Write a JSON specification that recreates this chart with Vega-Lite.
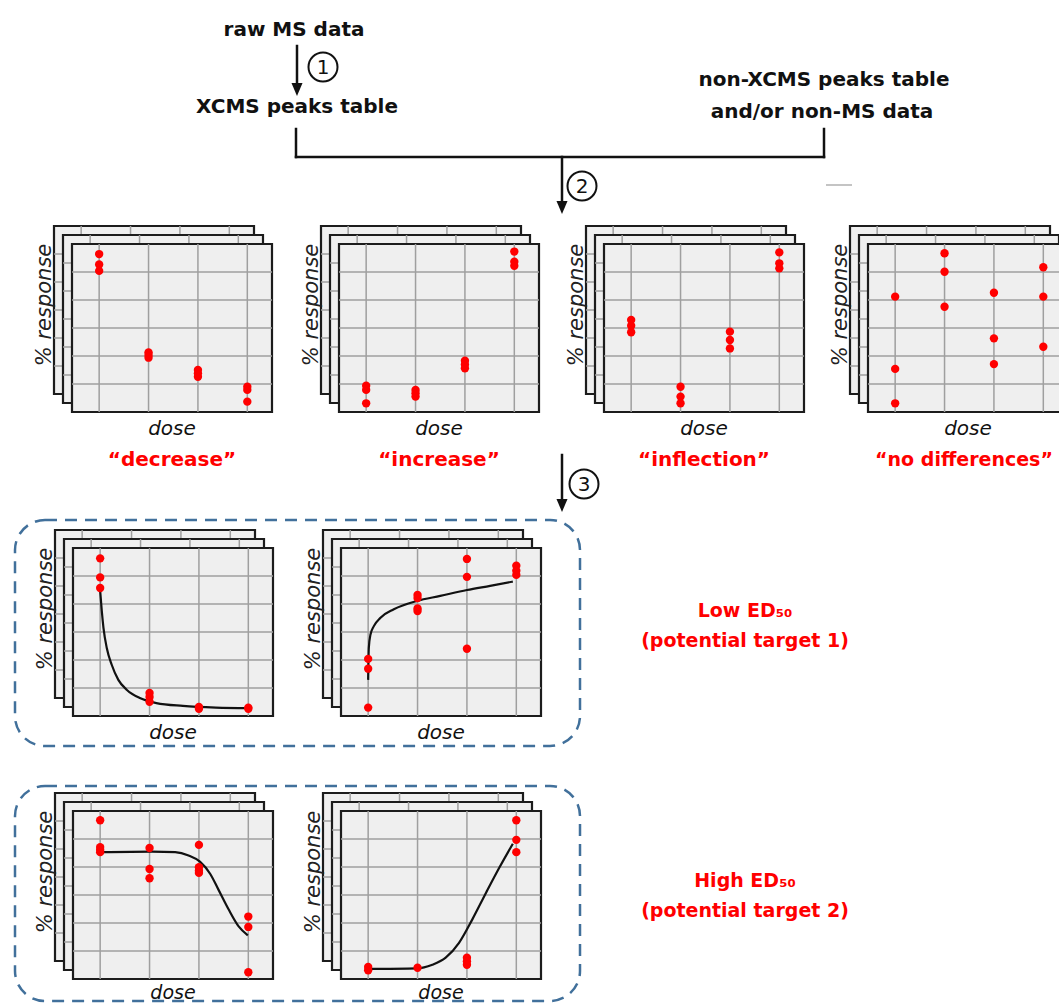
{
"$schema": "https://vega.github.io/schema/vega-lite/v6.json",
"width": 1059, "height": 1005, "autosize": {"type": "none"}, "padding": 0, "background": "white",
"config": {"view": {"stroke": null}, "axis": {"disable": true}},
"resolve": {"scale": {"x": "independent", "y": "independent"}},
"datasets": {
"sheet": [{"sheet": "card"}],
"grid": [{"x":1,"x2":1,"y":0,"y2":6},{"x":2,"x2":2,"y":0,"y2":6},{"x":3,"x2":3,"y":0,"y2":6},{"x":4,"x2":4,"y":0,"y2":6},{"x":0.45,"x2":4.5,"y":1,"y2":1},{"x":0.45,"x2":4.5,"y":2,"y2":2},{"x":0.45,"x2":4.5,"y":3,"y2":3},{"x":0.45,"x2":4.5,"y":4,"y2":4},{"x":0.45,"x2":4.5,"y":5,"y2":5}],
"points": [
{"panel":"decrease","dose":1,"response":5.64},{"panel":"decrease","dose":1,"response":5.27},{"panel":"decrease","dose":1,"response":5.04},{"panel":"decrease","dose":2,"response":2.13},{"panel":"decrease","dose":2,"response":2.04},{"panel":"decrease","dose":2,"response":1.94},{"panel":"decrease","dose":3,"response":1.5},{"panel":"decrease","dose":3,"response":1.38},{"panel":"decrease","dose":3,"response":1.26},{"panel":"decrease","dose":4,"response":0.9},{"panel":"decrease","dose":4,"response":0.79},{"panel":"decrease","dose":4,"response":0.37},
{"panel":"increase","dose":1,"response":0.94},{"panel":"increase","dose":1,"response":0.79},{"panel":"increase","dose":1,"response":0.31},{"panel":"increase","dose":2,"response":0.79},{"panel":"increase","dose":2,"response":0.67},{"panel":"increase","dose":2,"response":0.55},{"panel":"increase","dose":3,"response":1.83},{"panel":"increase","dose":3,"response":1.7},{"panel":"increase","dose":3,"response":1.56},{"panel":"increase","dose":4,"response":5.73},{"panel":"increase","dose":4,"response":5.37},{"panel":"increase","dose":4,"response":5.22},
{"panel":"inflection","dose":1,"response":3.29},{"panel":"inflection","dose":1,"response":3.08},{"panel":"inflection","dose":1,"response":2.85},{"panel":"inflection","dose":2,"response":0.9},{"panel":"inflection","dose":2,"response":0.55},{"panel":"inflection","dose":2,"response":0.31},{"panel":"inflection","dose":3,"response":2.87},{"panel":"inflection","dose":3,"response":2.57},{"panel":"inflection","dose":3,"response":2.27},{"panel":"inflection","dose":4,"response":5.7},{"panel":"inflection","dose":4,"response":5.31},{"panel":"inflection","dose":4,"response":5.13},
{"panel":"no differences","dose":1,"response":4.12},{"panel":"no differences","dose":1,"response":1.54},{"panel":"no differences","dose":1,"response":0.31},{"panel":"no differences","dose":2,"response":5.67},{"panel":"no differences","dose":2,"response":5.01},{"panel":"no differences","dose":2,"response":3.76},{"panel":"no differences","dose":3,"response":4.26},{"panel":"no differences","dose":3,"response":2.63},{"panel":"no differences","dose":3,"response":1.71},{"panel":"no differences","dose":4,"response":5.17},{"panel":"no differences","dose":4,"response":4.12},{"panel":"no differences","dose":4,"response":2.33},
{"panel":"low1","dose":1,"response":5.63},{"panel":"low1","dose":1,"response":4.95},{"panel":"low1","dose":1,"response":4.57},{"panel":"low1","dose":2,"response":0.82},{"panel":"low1","dose":2,"response":0.68},{"panel":"low1","dose":2,"response":0.51},{"panel":"low1","dose":3,"response":0.32},{"panel":"low1","dose":3,"response":0.26},{"panel":"low1","dose":4,"response":0.3},{"panel":"low1","dose":4,"response":0.26},
{"panel":"low2","dose":1,"response":2.04},{"panel":"low2","dose":1,"response":1.69},{"panel":"low2","dose":1,"response":0.3},{"panel":"low2","dose":2,"response":4.32},{"panel":"low2","dose":2,"response":4.21},{"panel":"low2","dose":2,"response":3.84},{"panel":"low2","dose":2,"response":3.75},{"panel":"low2","dose":3,"response":5.61},{"panel":"low2","dose":3,"response":4.97},{"panel":"low2","dose":3,"response":2.4},{"panel":"low2","dose":4,"response":5.37},{"panel":"low2","dose":4,"response":5.19},{"panel":"low2","dose":4,"response":5.04},
{"panel":"high1","dose":1,"response":5.67},{"panel":"high1","dose":1,"response":4.71},{"panel":"high1","dose":1,"response":4.62},{"panel":"high1","dose":1,"response":4.53},{"panel":"high1","dose":2,"response":4.68},{"panel":"high1","dose":2,"response":3.93},{"panel":"high1","dose":2,"response":3.6},{"panel":"high1","dose":3,"response":4.79},{"panel":"high1","dose":3,"response":3.99},{"panel":"high1","dose":3,"response":3.87},{"panel":"high1","dose":3,"response":3.79},{"panel":"high1","dose":4,"response":2.23},{"panel":"high1","dose":4,"response":1.86},{"panel":"high1","dose":4,"response":0.24},
{"panel":"high2","dose":1,"response":0.43},{"panel":"high2","dose":1,"response":0.31},{"panel":"high2","dose":2,"response":0.4},{"panel":"high2","dose":3,"response":0.76},{"panel":"high2","dose":3,"response":0.63},{"panel":"high2","dose":3,"response":0.51},{"panel":"high2","dose":4,"response":5.67},{"panel":"high2","dose":4,"response":4.97},{"panel":"high2","dose":4,"response":4.53}
],
"curves": [
{"panel":"low1","dose":1,"fit":4.47},{"panel":"low1","dose":1.033,"fit":3.75},{"panel":"low1","dose":1.067,"fit":3.15},{"panel":"low1","dose":1.134,"fit":2.43},{"panel":"low1","dose":1.234,"fit":1.83},{"panel":"low1","dose":1.368,"fit":1.29},{"panel":"low1","dose":1.536,"fit":0.94},{"panel":"low1","dose":1.804,"fit":0.64},{"panel":"low1","dose":2.139,"fit":0.46},{"panel":"low1","dose":2.675,"fit":0.36},{"panel":"low1","dose":3.344,"fit":0.3},{"panel":"low1","dose":4.014,"fit":0.28},
{"panel":"low2","dose":1,"fit":1.29},{"panel":"low2","dose":1.013,"fit":2.43},{"panel":"low2","dose":1.047,"fit":2.91},{"panel":"low2","dose":1.115,"fit":3.21},{"panel":"low2","dose":1.25,"fit":3.51},{"panel":"low2","dose":1.52,"fit":3.81},{"panel":"low2","dose":1.99,"fit":4.11},{"panel":"low2","dose":2.46,"fit":4.29},{"panel":"low2","dose":3.0,"fit":4.5},{"panel":"low2","dose":3.47,"fit":4.65},{"panel":"low2","dose":3.93,"fit":4.8},
{"panel":"high1","dose":1.03,"fit":4.53},{"panel":"high1","dose":2.05,"fit":4.55},{"panel":"high1","dose":2.52,"fit":4.53},{"panel":"high1","dose":2.79,"fit":4.41},{"panel":"high1","dose":3.02,"fit":4.19},{"panel":"high1","dose":3.23,"fit":3.75},{"panel":"high1","dose":3.39,"fit":3.21},{"panel":"high1","dose":3.6,"fit":2.49},{"panel":"high1","dose":3.8,"fit":1.89},{"panel":"high1","dose":3.99,"fit":1.56},
{"panel":"high2","dose":1,"fit":0.36},{"panel":"high2","dose":1.99,"fit":0.38},{"panel":"high2","dose":2.3,"fit":0.51},{"panel":"high2","dose":2.57,"fit":0.76},{"panel":"high2","dose":2.84,"fit":1.29},{"panel":"high2","dose":3.11,"fit":2.13},{"panel":"high2","dose":3.39,"fit":3.09},{"panel":"high2","dose":3.66,"fit":3.99},{"panel":"high2","dose":3.93,"fit":4.83}
],
"labels": [
{"role":"node","text":"raw MS data","x":294,"y":36},
{"role":"node","text":"XCMS peaks table","x":297,"y":113},
{"role":"node","text":"non-XCMS peaks table","x":824,"y":86},
{"role":"node","text":"and/or non-MS data","x":822,"y":118},
{"role":"target","text":"Low ED₅₀","x":745,"y":617},
{"role":"target","text":"(potential target 1)","x":745,"y":647},
{"role":"target","text":"High ED₅₀","x":745,"y":887},
{"role":"target","text":"(potential target 2)","x":745,"y":917}
],
"steps": [{"step":"1","x":323,"y":67},{"step":"2","x":582,"y":186},{"step":"3","x":584,"y":484}],
"lines": [
{"kind":"black","x":297,"x2":297,"y":46,"y2":90},
{"kind":"black","x":296,"x2":296,"y":129,"y2":157},
{"kind":"black","x":824,"x2":824,"y":129,"y2":157},
{"kind":"black","x":296,"x2":824,"y":157,"y2":157},
{"kind":"black","x":562,"x2":562,"y":157,"y2":208},
{"kind":"black","x":562,"x2":562,"y":455,"y2":506},
{"kind":"gray","x":826,"x2":852,"y":185,"y2":185}
],
"arrows": [{"x":297,"y":96},{"x":562,"y":214},{"x":562,"y":512}],
"boxes": [{"x":15,"x2":580,"y":520,"y2":746},{"x":15,"x2":580,"y":786,"y2":1001}]
},
"layer": [
{"layer": [
 {"data":{"name":"boxes"},"mark":{"type":"rect","fill":"white","fillOpacity":0,"stroke":"#41709b","strokeWidth":2.5,"strokeDash":[12,8],"cornerRadius":30},"encoding":{"x":{"field":"x","type":"quantitative","scale":{"domain":[0,1059],"range":[0,1059],"nice":false,"zero":false}},"x2":{"field":"x2"},"y":{"field":"y","type":"quantitative","scale":{"domain":[0,1005],"range":[0,1005],"nice":false,"zero":false}},"y2":{"field":"y2"}}},
 {"data":{"name":"lines"},"transform":[{"filter":"datum.kind=='black'"}],"mark":{"type":"rule","color":"#111","strokeWidth":2.5,"strokeCap":"square"},"encoding":{"x":{"field":"x","type":"quantitative"},"x2":{"field":"x2"},"y":{"field":"y","type":"quantitative"},"y2":{"field":"y2"}}},
 {"data":{"name":"lines"},"transform":[{"filter":"datum.kind=='gray'"}],"mark":{"type":"rule","color":"#c4c4c4","strokeWidth":2},"encoding":{"x":{"field":"x","type":"quantitative"},"x2":{"field":"x2"},"y":{"field":"y","type":"quantitative"},"y2":{"field":"y2"}}},
 {"data":{"name":"arrows"},"mark":{"type":"point","shape":"M-0.85,-2L0.85,-2L0,0Z","size":169,"filled":true,"color":"#111","opacity":1},"encoding":{"x":{"field":"x","type":"quantitative"},"y":{"field":"y","type":"quantitative"}}},
 {"data":{"name":"steps"},"mark":{"type":"point","shape":"circle","size":841,"filled":false,"color":"#111","strokeWidth":2,"opacity":1},"encoding":{"x":{"field":"x","type":"quantitative"},"y":{"field":"y","type":"quantitative"}}},
 {"data":{"name":"steps"},"mark":{"type":"text","font":"DejaVu Sans","fontSize":20,"color":"#111","align":"center","baseline":"middle","dy":1},"encoding":{"x":{"field":"x","type":"quantitative"},"y":{"field":"y","type":"quantitative"},"text":{"field":"step"}}},
 {"data":{"name":"labels"},"transform":[{"filter":"datum.role=='node'"}],"mark":{"type":"text","font":"DejaVu Sans","fontWeight":"bold","fontSize":20,"color":"#111","align":"center","baseline":"alphabetic"},"encoding":{"x":{"field":"x","type":"quantitative"},"y":{"field":"y","type":"quantitative"},"text":{"field":"text"}}},
 {"data":{"name":"labels"},"transform":[{"filter":"datum.role=='target'"}],"mark":{"type":"text","font":"DejaVu Sans","fontWeight":"bold","fontSize":19,"color":"#f00","align":"center","baseline":"alphabetic"},"encoding":{"x":{"field":"x","type":"quantitative"},"y":{"field":"y","type":"quantitative"},"text":{"field":"text"}}}
]},
{"layer": [
 {"data":{"name":"sheet"},"mark":{"type":"rect","fill":"#efefef","stroke":"#1c1c1c","strokeWidth":2.2,"xOffset":-18,"x2Offset":-18,"yOffset":-18,"y2Offset":-18},"encoding":{"x":{"datum":0.45,"type":"quantitative","scale":{"domain":[0.45,4.5],"range":[72,272],"nice":false,"zero":false}},"x2":{"datum":4.5},"y":{"datum":0,"type":"quantitative","scale":{"domain":[0,6],"range":[412,244],"nice":false,"zero":false}},"y2":{"datum":6}}},
 {"data":{"name":"grid"},"mark":{"type":"rule","color":"#9f9f9f","strokeWidth":1.5,"xOffset":-18,"x2Offset":-18,"yOffset":-18,"y2Offset":-18},"encoding":{"x":{"field":"x","type":"quantitative"},"x2":{"field":"x2"},"y":{"field":"y","type":"quantitative"},"y2":{"field":"y2"}}},
 {"data":{"name":"sheet"},"mark":{"type":"rect","fill":"#efefef","stroke":"#1c1c1c","strokeWidth":2.2,"xOffset":-9,"x2Offset":-9,"yOffset":-9,"y2Offset":-9},"encoding":{"x":{"datum":0.45,"type":"quantitative"},"x2":{"datum":4.5},"y":{"datum":0,"type":"quantitative"},"y2":{"datum":6}}},
 {"data":{"name":"grid"},"mark":{"type":"rule","color":"#9f9f9f","strokeWidth":1.5,"xOffset":-9,"x2Offset":-9,"yOffset":-9,"y2Offset":-9},"encoding":{"x":{"field":"x","type":"quantitative"},"x2":{"field":"x2"},"y":{"field":"y","type":"quantitative"},"y2":{"field":"y2"}}},
 {"data":{"name":"sheet"},"mark":{"type":"rect","fill":"#efefef","stroke":"#1c1c1c","strokeWidth":2.2},"encoding":{"x":{"datum":0.45,"type":"quantitative"},"x2":{"datum":4.5},"y":{"datum":0,"type":"quantitative"},"y2":{"datum":6}}},
 {"data":{"name":"grid"},"mark":{"type":"rule","color":"#9f9f9f","strokeWidth":1.5},"encoding":{"x":{"field":"x","type":"quantitative"},"x2":{"field":"x2"},"y":{"field":"y","type":"quantitative"},"y2":{"field":"y2"}}},
 {"data":{"name":"points"},"transform":[{"filter":"datum.panel=='decrease'"}],"mark":{"type":"circle","color":"#f00","size":70,"opacity":1},"encoding":{"x":{"field":"dose","type":"quantitative"},"y":{"field":"response","type":"quantitative"}}},
 {"data":{"name":"sheet"},"mark":{"type":"text","text":"dose","font":"DejaVu Sans","fontStyle":"italic","fontSize":20,"color":"#111","align":"center","baseline":"alphabetic","yOffset":23},"encoding":{"x":{"datum":2.475,"type":"quantitative"},"y":{"datum":0,"type":"quantitative"}}},
 {"data":{"name":"sheet"},"mark":{"type":"text","text":"% response","font":"DejaVu Sans","fontStyle":"italic","fontSize":21,"color":"#222","align":"center","baseline":"alphabetic","angle":270,"xOffset":-21,"yOffset":61},"encoding":{"x":{"datum":0.45,"type":"quantitative"},"y":{"datum":6,"type":"quantitative"}}},
 {"data":{"name":"sheet"},"mark":{"type":"text","text":"“decrease”","font":"DejaVu Sans","fontWeight":"bold","fontSize":20,"color":"#f00","align":"center","baseline":"alphabetic","yOffset":54},"encoding":{"x":{"datum":2.475,"type":"quantitative"},"y":{"datum":0,"type":"quantitative"}}}
]},
{"layer": [
 {"data":{"name":"sheet"},"mark":{"type":"rect","fill":"#efefef","stroke":"#1c1c1c","strokeWidth":2.2,"xOffset":-18,"x2Offset":-18,"yOffset":-18,"y2Offset":-18},"encoding":{"x":{"datum":0.45,"type":"quantitative","scale":{"domain":[0.45,4.5],"range":[339,539],"nice":false,"zero":false}},"x2":{"datum":4.5},"y":{"datum":0,"type":"quantitative","scale":{"domain":[0,6],"range":[412,244],"nice":false,"zero":false}},"y2":{"datum":6}}},
 {"data":{"name":"grid"},"mark":{"type":"rule","color":"#9f9f9f","strokeWidth":1.5,"xOffset":-18,"x2Offset":-18,"yOffset":-18,"y2Offset":-18},"encoding":{"x":{"field":"x","type":"quantitative"},"x2":{"field":"x2"},"y":{"field":"y","type":"quantitative"},"y2":{"field":"y2"}}},
 {"data":{"name":"sheet"},"mark":{"type":"rect","fill":"#efefef","stroke":"#1c1c1c","strokeWidth":2.2,"xOffset":-9,"x2Offset":-9,"yOffset":-9,"y2Offset":-9},"encoding":{"x":{"datum":0.45,"type":"quantitative"},"x2":{"datum":4.5},"y":{"datum":0,"type":"quantitative"},"y2":{"datum":6}}},
 {"data":{"name":"grid"},"mark":{"type":"rule","color":"#9f9f9f","strokeWidth":1.5,"xOffset":-9,"x2Offset":-9,"yOffset":-9,"y2Offset":-9},"encoding":{"x":{"field":"x","type":"quantitative"},"x2":{"field":"x2"},"y":{"field":"y","type":"quantitative"},"y2":{"field":"y2"}}},
 {"data":{"name":"sheet"},"mark":{"type":"rect","fill":"#efefef","stroke":"#1c1c1c","strokeWidth":2.2},"encoding":{"x":{"datum":0.45,"type":"quantitative"},"x2":{"datum":4.5},"y":{"datum":0,"type":"quantitative"},"y2":{"datum":6}}},
 {"data":{"name":"grid"},"mark":{"type":"rule","color":"#9f9f9f","strokeWidth":1.5},"encoding":{"x":{"field":"x","type":"quantitative"},"x2":{"field":"x2"},"y":{"field":"y","type":"quantitative"},"y2":{"field":"y2"}}},
 {"data":{"name":"points"},"transform":[{"filter":"datum.panel=='increase'"}],"mark":{"type":"circle","color":"#f00","size":70,"opacity":1},"encoding":{"x":{"field":"dose","type":"quantitative"},"y":{"field":"response","type":"quantitative"}}},
 {"data":{"name":"sheet"},"mark":{"type":"text","text":"dose","font":"DejaVu Sans","fontStyle":"italic","fontSize":20,"color":"#111","align":"center","baseline":"alphabetic","yOffset":23},"encoding":{"x":{"datum":2.475,"type":"quantitative"},"y":{"datum":0,"type":"quantitative"}}},
 {"data":{"name":"sheet"},"mark":{"type":"text","text":"% response","font":"DejaVu Sans","fontStyle":"italic","fontSize":21,"color":"#222","align":"center","baseline":"alphabetic","angle":270,"xOffset":-21,"yOffset":61},"encoding":{"x":{"datum":0.45,"type":"quantitative"},"y":{"datum":6,"type":"quantitative"}}},
 {"data":{"name":"sheet"},"mark":{"type":"text","text":"“increase”","font":"DejaVu Sans","fontWeight":"bold","fontSize":20,"color":"#f00","align":"center","baseline":"alphabetic","yOffset":54},"encoding":{"x":{"datum":2.475,"type":"quantitative"},"y":{"datum":0,"type":"quantitative"}}}
]},
{"layer": [
 {"data":{"name":"sheet"},"mark":{"type":"rect","fill":"#efefef","stroke":"#1c1c1c","strokeWidth":2.2,"xOffset":-18,"x2Offset":-18,"yOffset":-18,"y2Offset":-18},"encoding":{"x":{"datum":0.45,"type":"quantitative","scale":{"domain":[0.45,4.5],"range":[604,804],"nice":false,"zero":false}},"x2":{"datum":4.5},"y":{"datum":0,"type":"quantitative","scale":{"domain":[0,6],"range":[412,244],"nice":false,"zero":false}},"y2":{"datum":6}}},
 {"data":{"name":"grid"},"mark":{"type":"rule","color":"#9f9f9f","strokeWidth":1.5,"xOffset":-18,"x2Offset":-18,"yOffset":-18,"y2Offset":-18},"encoding":{"x":{"field":"x","type":"quantitative"},"x2":{"field":"x2"},"y":{"field":"y","type":"quantitative"},"y2":{"field":"y2"}}},
 {"data":{"name":"sheet"},"mark":{"type":"rect","fill":"#efefef","stroke":"#1c1c1c","strokeWidth":2.2,"xOffset":-9,"x2Offset":-9,"yOffset":-9,"y2Offset":-9},"encoding":{"x":{"datum":0.45,"type":"quantitative"},"x2":{"datum":4.5},"y":{"datum":0,"type":"quantitative"},"y2":{"datum":6}}},
 {"data":{"name":"grid"},"mark":{"type":"rule","color":"#9f9f9f","strokeWidth":1.5,"xOffset":-9,"x2Offset":-9,"yOffset":-9,"y2Offset":-9},"encoding":{"x":{"field":"x","type":"quantitative"},"x2":{"field":"x2"},"y":{"field":"y","type":"quantitative"},"y2":{"field":"y2"}}},
 {"data":{"name":"sheet"},"mark":{"type":"rect","fill":"#efefef","stroke":"#1c1c1c","strokeWidth":2.2},"encoding":{"x":{"datum":0.45,"type":"quantitative"},"x2":{"datum":4.5},"y":{"datum":0,"type":"quantitative"},"y2":{"datum":6}}},
 {"data":{"name":"grid"},"mark":{"type":"rule","color":"#9f9f9f","strokeWidth":1.5},"encoding":{"x":{"field":"x","type":"quantitative"},"x2":{"field":"x2"},"y":{"field":"y","type":"quantitative"},"y2":{"field":"y2"}}},
 {"data":{"name":"points"},"transform":[{"filter":"datum.panel=='inflection'"}],"mark":{"type":"circle","color":"#f00","size":70,"opacity":1},"encoding":{"x":{"field":"dose","type":"quantitative"},"y":{"field":"response","type":"quantitative"}}},
 {"data":{"name":"sheet"},"mark":{"type":"text","text":"dose","font":"DejaVu Sans","fontStyle":"italic","fontSize":20,"color":"#111","align":"center","baseline":"alphabetic","yOffset":23},"encoding":{"x":{"datum":2.475,"type":"quantitative"},"y":{"datum":0,"type":"quantitative"}}},
 {"data":{"name":"sheet"},"mark":{"type":"text","text":"% response","font":"DejaVu Sans","fontStyle":"italic","fontSize":21,"color":"#222","align":"center","baseline":"alphabetic","angle":270,"xOffset":-21,"yOffset":61},"encoding":{"x":{"datum":0.45,"type":"quantitative"},"y":{"datum":6,"type":"quantitative"}}},
 {"data":{"name":"sheet"},"mark":{"type":"text","text":"“inflection”","font":"DejaVu Sans","fontWeight":"bold","fontSize":20,"color":"#f00","align":"center","baseline":"alphabetic","yOffset":54},"encoding":{"x":{"datum":2.475,"type":"quantitative"},"y":{"datum":0,"type":"quantitative"}}}
]},
{"layer": [
 {"data":{"name":"sheet"},"mark":{"type":"rect","fill":"#efefef","stroke":"#1c1c1c","strokeWidth":2.2,"xOffset":-18,"x2Offset":-18,"yOffset":-18,"y2Offset":-18},"encoding":{"x":{"datum":0.45,"type":"quantitative","scale":{"domain":[0.45,4.5],"range":[868,1068],"nice":false,"zero":false}},"x2":{"datum":4.5},"y":{"datum":0,"type":"quantitative","scale":{"domain":[0,6],"range":[412,244],"nice":false,"zero":false}},"y2":{"datum":6}}},
 {"data":{"name":"grid"},"mark":{"type":"rule","color":"#9f9f9f","strokeWidth":1.5,"xOffset":-18,"x2Offset":-18,"yOffset":-18,"y2Offset":-18},"encoding":{"x":{"field":"x","type":"quantitative"},"x2":{"field":"x2"},"y":{"field":"y","type":"quantitative"},"y2":{"field":"y2"}}},
 {"data":{"name":"sheet"},"mark":{"type":"rect","fill":"#efefef","stroke":"#1c1c1c","strokeWidth":2.2,"xOffset":-9,"x2Offset":-9,"yOffset":-9,"y2Offset":-9},"encoding":{"x":{"datum":0.45,"type":"quantitative"},"x2":{"datum":4.5},"y":{"datum":0,"type":"quantitative"},"y2":{"datum":6}}},
 {"data":{"name":"grid"},"mark":{"type":"rule","color":"#9f9f9f","strokeWidth":1.5,"xOffset":-9,"x2Offset":-9,"yOffset":-9,"y2Offset":-9},"encoding":{"x":{"field":"x","type":"quantitative"},"x2":{"field":"x2"},"y":{"field":"y","type":"quantitative"},"y2":{"field":"y2"}}},
 {"data":{"name":"sheet"},"mark":{"type":"rect","fill":"#efefef","stroke":"#1c1c1c","strokeWidth":2.2},"encoding":{"x":{"datum":0.45,"type":"quantitative"},"x2":{"datum":4.5},"y":{"datum":0,"type":"quantitative"},"y2":{"datum":6}}},
 {"data":{"name":"grid"},"mark":{"type":"rule","color":"#9f9f9f","strokeWidth":1.5},"encoding":{"x":{"field":"x","type":"quantitative"},"x2":{"field":"x2"},"y":{"field":"y","type":"quantitative"},"y2":{"field":"y2"}}},
 {"data":{"name":"points"},"transform":[{"filter":"datum.panel=='no differences'"}],"mark":{"type":"circle","color":"#f00","size":70,"opacity":1},"encoding":{"x":{"field":"dose","type":"quantitative"},"y":{"field":"response","type":"quantitative"}}},
 {"data":{"name":"sheet"},"mark":{"type":"text","text":"dose","font":"DejaVu Sans","fontStyle":"italic","fontSize":20,"color":"#111","align":"center","baseline":"alphabetic","yOffset":23},"encoding":{"x":{"datum":2.475,"type":"quantitative"},"y":{"datum":0,"type":"quantitative"}}},
 {"data":{"name":"sheet"},"mark":{"type":"text","text":"% response","font":"DejaVu Sans","fontStyle":"italic","fontSize":21,"color":"#222","align":"center","baseline":"alphabetic","angle":270,"xOffset":-21,"yOffset":61},"encoding":{"x":{"datum":0.45,"type":"quantitative"},"y":{"datum":6,"type":"quantitative"}}},
 {"data":{"name":"sheet"},"mark":{"type":"text","text":"“no differences”","font":"DejaVu Sans","fontWeight":"bold","fontSize":19,"color":"#f00","align":"center","baseline":"alphabetic","yOffset":54,"xOffset":-4},"encoding":{"x":{"datum":2.475,"type":"quantitative"},"y":{"datum":0,"type":"quantitative"}}}
]},
{"layer": [
 {"data":{"name":"sheet"},"mark":{"type":"rect","fill":"#efefef","stroke":"#1c1c1c","strokeWidth":2.2,"xOffset":-18,"x2Offset":-18,"yOffset":-18,"y2Offset":-18},"encoding":{"x":{"datum":0.45,"type":"quantitative","scale":{"domain":[0.45,4.5],"range":[73,273],"nice":false,"zero":false}},"x2":{"datum":4.5},"y":{"datum":0,"type":"quantitative","scale":{"domain":[0,6],"range":[716,548],"nice":false,"zero":false}},"y2":{"datum":6}}},
 {"data":{"name":"grid"},"mark":{"type":"rule","color":"#9f9f9f","strokeWidth":1.5,"xOffset":-18,"x2Offset":-18,"yOffset":-18,"y2Offset":-18},"encoding":{"x":{"field":"x","type":"quantitative"},"x2":{"field":"x2"},"y":{"field":"y","type":"quantitative"},"y2":{"field":"y2"}}},
 {"data":{"name":"sheet"},"mark":{"type":"rect","fill":"#efefef","stroke":"#1c1c1c","strokeWidth":2.2,"xOffset":-9,"x2Offset":-9,"yOffset":-9,"y2Offset":-9},"encoding":{"x":{"datum":0.45,"type":"quantitative"},"x2":{"datum":4.5},"y":{"datum":0,"type":"quantitative"},"y2":{"datum":6}}},
 {"data":{"name":"grid"},"mark":{"type":"rule","color":"#9f9f9f","strokeWidth":1.5,"xOffset":-9,"x2Offset":-9,"yOffset":-9,"y2Offset":-9},"encoding":{"x":{"field":"x","type":"quantitative"},"x2":{"field":"x2"},"y":{"field":"y","type":"quantitative"},"y2":{"field":"y2"}}},
 {"data":{"name":"sheet"},"mark":{"type":"rect","fill":"#efefef","stroke":"#1c1c1c","strokeWidth":2.2},"encoding":{"x":{"datum":0.45,"type":"quantitative"},"x2":{"datum":4.5},"y":{"datum":0,"type":"quantitative"},"y2":{"datum":6}}},
 {"data":{"name":"grid"},"mark":{"type":"rule","color":"#9f9f9f","strokeWidth":1.5},"encoding":{"x":{"field":"x","type":"quantitative"},"x2":{"field":"x2"},"y":{"field":"y","type":"quantitative"},"y2":{"field":"y2"}}},
 {"data":{"name":"curves"},"transform":[{"filter":"datum.panel=='low1'"}],"mark":{"type":"line","color":"#111","strokeWidth":2.2,"interpolate":"monotone"},"encoding":{"x":{"field":"dose","type":"quantitative"},"y":{"field":"fit","type":"quantitative"}}},
 {"data":{"name":"points"},"transform":[{"filter":"datum.panel=='low1'"}],"mark":{"type":"circle","color":"#f00","size":70,"opacity":1},"encoding":{"x":{"field":"dose","type":"quantitative"},"y":{"field":"response","type":"quantitative"}}},
 {"data":{"name":"sheet"},"mark":{"type":"text","text":"dose","font":"DejaVu Sans","fontStyle":"italic","fontSize":20,"color":"#111","align":"center","baseline":"alphabetic","yOffset":23},"encoding":{"x":{"datum":2.475,"type":"quantitative"},"y":{"datum":0,"type":"quantitative"}}},
 {"data":{"name":"sheet"},"mark":{"type":"text","text":"% response","font":"DejaVu Sans","fontStyle":"italic","fontSize":21,"color":"#222","align":"center","baseline":"alphabetic","angle":270,"xOffset":-21,"yOffset":61},"encoding":{"x":{"datum":0.45,"type":"quantitative"},"y":{"datum":6,"type":"quantitative"}}}
]},
{"layer": [
 {"data":{"name":"sheet"},"mark":{"type":"rect","fill":"#efefef","stroke":"#1c1c1c","strokeWidth":2.2,"xOffset":-18,"x2Offset":-18,"yOffset":-18,"y2Offset":-18},"encoding":{"x":{"datum":0.45,"type":"quantitative","scale":{"domain":[0.45,4.5],"range":[341,541],"nice":false,"zero":false}},"x2":{"datum":4.5},"y":{"datum":0,"type":"quantitative","scale":{"domain":[0,6],"range":[716,548],"nice":false,"zero":false}},"y2":{"datum":6}}},
 {"data":{"name":"grid"},"mark":{"type":"rule","color":"#9f9f9f","strokeWidth":1.5,"xOffset":-18,"x2Offset":-18,"yOffset":-18,"y2Offset":-18},"encoding":{"x":{"field":"x","type":"quantitative"},"x2":{"field":"x2"},"y":{"field":"y","type":"quantitative"},"y2":{"field":"y2"}}},
 {"data":{"name":"sheet"},"mark":{"type":"rect","fill":"#efefef","stroke":"#1c1c1c","strokeWidth":2.2,"xOffset":-9,"x2Offset":-9,"yOffset":-9,"y2Offset":-9},"encoding":{"x":{"datum":0.45,"type":"quantitative"},"x2":{"datum":4.5},"y":{"datum":0,"type":"quantitative"},"y2":{"datum":6}}},
 {"data":{"name":"grid"},"mark":{"type":"rule","color":"#9f9f9f","strokeWidth":1.5,"xOffset":-9,"x2Offset":-9,"yOffset":-9,"y2Offset":-9},"encoding":{"x":{"field":"x","type":"quantitative"},"x2":{"field":"x2"},"y":{"field":"y","type":"quantitative"},"y2":{"field":"y2"}}},
 {"data":{"name":"sheet"},"mark":{"type":"rect","fill":"#efefef","stroke":"#1c1c1c","strokeWidth":2.2},"encoding":{"x":{"datum":0.45,"type":"quantitative"},"x2":{"datum":4.5},"y":{"datum":0,"type":"quantitative"},"y2":{"datum":6}}},
 {"data":{"name":"grid"},"mark":{"type":"rule","color":"#9f9f9f","strokeWidth":1.5},"encoding":{"x":{"field":"x","type":"quantitative"},"x2":{"field":"x2"},"y":{"field":"y","type":"quantitative"},"y2":{"field":"y2"}}},
 {"data":{"name":"curves"},"transform":[{"filter":"datum.panel=='low2'"}],"mark":{"type":"line","color":"#111","strokeWidth":2.2,"interpolate":"monotone"},"encoding":{"x":{"field":"dose","type":"quantitative"},"y":{"field":"fit","type":"quantitative"}}},
 {"data":{"name":"points"},"transform":[{"filter":"datum.panel=='low2'"}],"mark":{"type":"circle","color":"#f00","size":70,"opacity":1},"encoding":{"x":{"field":"dose","type":"quantitative"},"y":{"field":"response","type":"quantitative"}}},
 {"data":{"name":"sheet"},"mark":{"type":"text","text":"dose","font":"DejaVu Sans","fontStyle":"italic","fontSize":20,"color":"#111","align":"center","baseline":"alphabetic","yOffset":23},"encoding":{"x":{"datum":2.475,"type":"quantitative"},"y":{"datum":0,"type":"quantitative"}}},
 {"data":{"name":"sheet"},"mark":{"type":"text","text":"% response","font":"DejaVu Sans","fontStyle":"italic","fontSize":21,"color":"#222","align":"center","baseline":"alphabetic","angle":270,"xOffset":-21,"yOffset":61},"encoding":{"x":{"datum":0.45,"type":"quantitative"},"y":{"datum":6,"type":"quantitative"}}}
]},
{"layer": [
 {"data":{"name":"sheet"},"mark":{"type":"rect","fill":"#efefef","stroke":"#1c1c1c","strokeWidth":2.2,"xOffset":-18,"x2Offset":-18,"yOffset":-18,"y2Offset":-18},"encoding":{"x":{"datum":0.45,"type":"quantitative","scale":{"domain":[0.45,4.5],"range":[73,273],"nice":false,"zero":false}},"x2":{"datum":4.5},"y":{"datum":0,"type":"quantitative","scale":{"domain":[0,6],"range":[979,811],"nice":false,"zero":false}},"y2":{"datum":6}}},
 {"data":{"name":"grid"},"mark":{"type":"rule","color":"#9f9f9f","strokeWidth":1.5,"xOffset":-18,"x2Offset":-18,"yOffset":-18,"y2Offset":-18},"encoding":{"x":{"field":"x","type":"quantitative"},"x2":{"field":"x2"},"y":{"field":"y","type":"quantitative"},"y2":{"field":"y2"}}},
 {"data":{"name":"sheet"},"mark":{"type":"rect","fill":"#efefef","stroke":"#1c1c1c","strokeWidth":2.2,"xOffset":-9,"x2Offset":-9,"yOffset":-9,"y2Offset":-9},"encoding":{"x":{"datum":0.45,"type":"quantitative"},"x2":{"datum":4.5},"y":{"datum":0,"type":"quantitative"},"y2":{"datum":6}}},
 {"data":{"name":"grid"},"mark":{"type":"rule","color":"#9f9f9f","strokeWidth":1.5,"xOffset":-9,"x2Offset":-9,"yOffset":-9,"y2Offset":-9},"encoding":{"x":{"field":"x","type":"quantitative"},"x2":{"field":"x2"},"y":{"field":"y","type":"quantitative"},"y2":{"field":"y2"}}},
 {"data":{"name":"sheet"},"mark":{"type":"rect","fill":"#efefef","stroke":"#1c1c1c","strokeWidth":2.2},"encoding":{"x":{"datum":0.45,"type":"quantitative"},"x2":{"datum":4.5},"y":{"datum":0,"type":"quantitative"},"y2":{"datum":6}}},
 {"data":{"name":"grid"},"mark":{"type":"rule","color":"#9f9f9f","strokeWidth":1.5},"encoding":{"x":{"field":"x","type":"quantitative"},"x2":{"field":"x2"},"y":{"field":"y","type":"quantitative"},"y2":{"field":"y2"}}},
 {"data":{"name":"curves"},"transform":[{"filter":"datum.panel=='high1'"}],"mark":{"type":"line","color":"#111","strokeWidth":2.2,"interpolate":"monotone"},"encoding":{"x":{"field":"dose","type":"quantitative"},"y":{"field":"fit","type":"quantitative"}}},
 {"data":{"name":"points"},"transform":[{"filter":"datum.panel=='high1'"}],"mark":{"type":"circle","color":"#f00","size":70,"opacity":1},"encoding":{"x":{"field":"dose","type":"quantitative"},"y":{"field":"response","type":"quantitative"}}},
 {"data":{"name":"sheet"},"mark":{"type":"text","text":"dose","font":"DejaVu Sans","fontStyle":"italic","fontSize":19,"color":"#111","align":"center","baseline":"alphabetic","yOffset":20},"encoding":{"x":{"datum":2.475,"type":"quantitative"},"y":{"datum":0,"type":"quantitative"}}},
 {"data":{"name":"sheet"},"mark":{"type":"text","text":"% response","font":"DejaVu Sans","fontStyle":"italic","fontSize":21,"color":"#222","align":"center","baseline":"alphabetic","angle":270,"xOffset":-21,"yOffset":61},"encoding":{"x":{"datum":0.45,"type":"quantitative"},"y":{"datum":6,"type":"quantitative"}}}
]},
{"layer": [
 {"data":{"name":"sheet"},"mark":{"type":"rect","fill":"#efefef","stroke":"#1c1c1c","strokeWidth":2.2,"xOffset":-18,"x2Offset":-18,"yOffset":-18,"y2Offset":-18},"encoding":{"x":{"datum":0.45,"type":"quantitative","scale":{"domain":[0.45,4.5],"range":[341,541],"nice":false,"zero":false}},"x2":{"datum":4.5},"y":{"datum":0,"type":"quantitative","scale":{"domain":[0,6],"range":[979,811],"nice":false,"zero":false}},"y2":{"datum":6}}},
 {"data":{"name":"grid"},"mark":{"type":"rule","color":"#9f9f9f","strokeWidth":1.5,"xOffset":-18,"x2Offset":-18,"yOffset":-18,"y2Offset":-18},"encoding":{"x":{"field":"x","type":"quantitative"},"x2":{"field":"x2"},"y":{"field":"y","type":"quantitative"},"y2":{"field":"y2"}}},
 {"data":{"name":"sheet"},"mark":{"type":"rect","fill":"#efefef","stroke":"#1c1c1c","strokeWidth":2.2,"xOffset":-9,"x2Offset":-9,"yOffset":-9,"y2Offset":-9},"encoding":{"x":{"datum":0.45,"type":"quantitative"},"x2":{"datum":4.5},"y":{"datum":0,"type":"quantitative"},"y2":{"datum":6}}},
 {"data":{"name":"grid"},"mark":{"type":"rule","color":"#9f9f9f","strokeWidth":1.5,"xOffset":-9,"x2Offset":-9,"yOffset":-9,"y2Offset":-9},"encoding":{"x":{"field":"x","type":"quantitative"},"x2":{"field":"x2"},"y":{"field":"y","type":"quantitative"},"y2":{"field":"y2"}}},
 {"data":{"name":"sheet"},"mark":{"type":"rect","fill":"#efefef","stroke":"#1c1c1c","strokeWidth":2.2},"encoding":{"x":{"datum":0.45,"type":"quantitative"},"x2":{"datum":4.5},"y":{"datum":0,"type":"quantitative"},"y2":{"datum":6}}},
 {"data":{"name":"grid"},"mark":{"type":"rule","color":"#9f9f9f","strokeWidth":1.5},"encoding":{"x":{"field":"x","type":"quantitative"},"x2":{"field":"x2"},"y":{"field":"y","type":"quantitative"},"y2":{"field":"y2"}}},
 {"data":{"name":"curves"},"transform":[{"filter":"datum.panel=='high2'"}],"mark":{"type":"line","color":"#111","strokeWidth":2.2,"interpolate":"monotone"},"encoding":{"x":{"field":"dose","type":"quantitative"},"y":{"field":"fit","type":"quantitative"}}},
 {"data":{"name":"points"},"transform":[{"filter":"datum.panel=='high2'"}],"mark":{"type":"circle","color":"#f00","size":70,"opacity":1},"encoding":{"x":{"field":"dose","type":"quantitative"},"y":{"field":"response","type":"quantitative"}}},
 {"data":{"name":"sheet"},"mark":{"type":"text","text":"dose","font":"DejaVu Sans","fontStyle":"italic","fontSize":19,"color":"#111","align":"center","baseline":"alphabetic","yOffset":20},"encoding":{"x":{"datum":2.475,"type":"quantitative"},"y":{"datum":0,"type":"quantitative"}}},
 {"data":{"name":"sheet"},"mark":{"type":"text","text":"% response","font":"DejaVu Sans","fontStyle":"italic","fontSize":21,"color":"#222","align":"center","baseline":"alphabetic","angle":270,"xOffset":-21,"yOffset":61},"encoding":{"x":{"datum":0.45,"type":"quantitative"},"y":{"datum":6,"type":"quantitative"}}}
]}
]
}
